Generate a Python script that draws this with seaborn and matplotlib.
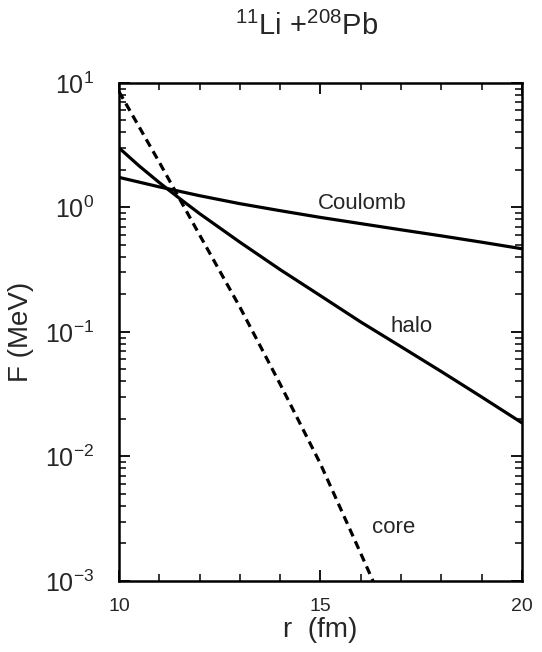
import numpy as np
import pandas as pd
import matplotlib
matplotlib.use("Agg")
import matplotlib.pyplot as plt
import seaborn as sns
from matplotlib.ticker import LogLocator, MultipleLocator, FixedLocator

# ---- data ----
r_coul = [10, 11, 12, 13, 14, 15, 16, 17, 18, 19, 20]
F_coul = [1.74, 1.46, 1.24, 1.07, 0.94, 0.83, 0.74, 0.66, 0.59, 0.525, 0.465]

r_halo = [10, 10.5, 11, 11.5, 12, 13, 14, 15, 16, 17, 18, 19, 20]
F_halo = [3.0, 2.15, 1.58, 1.18, 0.89, 0.525, 0.316, 0.195, 0.120, 0.076, 0.048, 0.030, 0.0186]

r_core = [10, 11, 12, 13, 14, 15, 16, 16.4]
F_core = [8.5, 2.3, 0.60, 0.158, 0.038, 0.0087, 0.00166, 0.00085]

x_ticks = [10, 15, 20]
x_ticklabels = ["10", "15", "20"]

sns.set_style("ticks")
plt.rcParams['font.family'] = ['Liberation Sans', 'DejaVu Sans']
plt.rcParams['mathtext.fontset'] = 'custom'
plt.rcParams['mathtext.rm'] = 'Liberation Sans'
plt.rcParams['mathtext.it'] = 'Liberation Sans'

fig = plt.figure(figsize=(5.42, 6.52), dpi=100)
ax = fig.add_axes([0.2196, 0.109, 0.7434, 0.764])

df_c = pd.DataFrame({"r": r_coul, "F": F_coul})
df_h = pd.DataFrame({"r": r_halo, "F": F_halo})
df_k = pd.DataFrame({"r": r_core, "F": F_core})

sns.lineplot(data=df_c, x="r", y="F", ax=ax, color="black", lw=2.3)
sns.lineplot(data=df_h, x="r", y="F", ax=ax, color="black", lw=2.3)
sns.lineplot(data=df_k, x="r", y="F", ax=ax, color="black", lw=2.3,
             linestyle=(0, (2.6, 1.7)))

ax.set_yscale("log")
ax.set_xlim(10, 20)
ax.set_ylim(1e-3, 1e1)

ax.xaxis.set_major_locator(FixedLocator(x_ticks))
ax.set_xticklabels(x_ticklabels)
ax.xaxis.set_minor_locator(MultipleLocator(1))
ax.yaxis.set_major_locator(LogLocator(base=10, numticks=10))
ax.yaxis.set_minor_locator(LogLocator(base=10, subs=np.arange(2, 10), numticks=20))

ax.tick_params(which="both", direction="in", top=True, right=True, color="black")
ax.tick_params(which="major", length=8, width=1.3)
ax.tick_params(which="minor", length=5, width=1.1)
ax.tick_params(axis="x", which="major", labelsize=14, pad=12)
ax.tick_params(axis="y", which="major", labelsize=18, pad=18)

for s in ax.spines.values():
    s.set_linewidth(1.8)
    s.set_color("black")

ax.set_xlabel("r  (fm)", fontsize=20, labelpad=2)
ax.set_ylabel("F (MeV)", fontsize=20, labelpad=8)

ax.text(14.94, 1.07, "Coulomb", fontsize=16, ha="left", va="center")
ax.text(16.73, 0.11, "halo", fontsize=16, ha="left", va="center")
ax.text(16.28, 0.0027, "core", fontsize=16, ha="left", va="center")

fig.text(0.566, 1 - 26 / 652, r"$^{11}$Li +$^{208}$Pb", fontsize=21,
         ha="center", va="center")

fig.savefig("out.png", dpi=100)
